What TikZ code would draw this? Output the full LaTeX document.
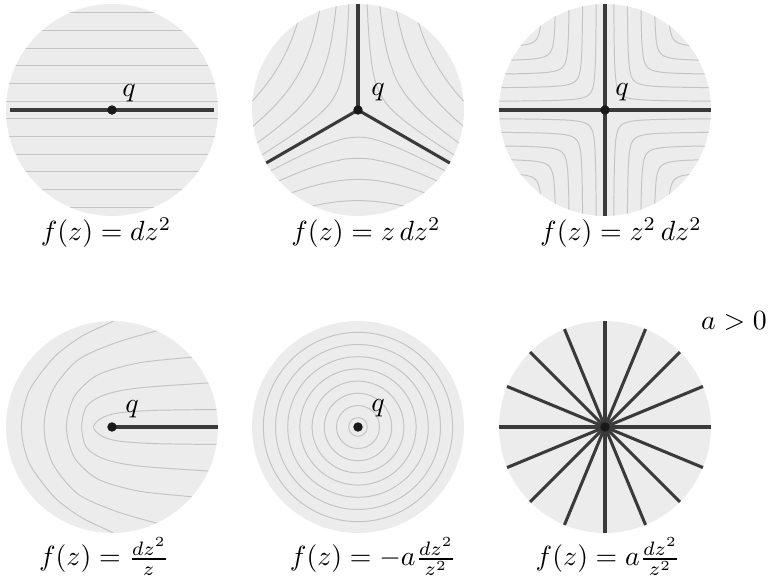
\documentclass[tikz,border=0pt]{standalone}
\usepackage{amsmath}
\usetikzlibrary{positioning}
\definecolor{diskgray}{RGB}{236,236,236}
\definecolor{trajgray}{RGB}{196,196,196}
\definecolor{critgray}{RGB}{58,58,58}

\begin{document}
\begin{tikzpicture}[
    x=0.36pt, y=-0.36pt,
    disk/.style={circle, fill=diskgray, minimum size=76.3pt, inner sep=0pt},
    diskframe/.style={shift={(#1.center)}, xscale=106, yscale=-106},
    traj/.style={draw=trajgray, line width=0.35pt},
    crit/.style={draw=critgray, line width=1.1pt},
    zero/.style={circle, fill=black!90, inner sep=0pt, minimum size=3.4pt},
    qlab/.style={inner sep=0pt},
    formula/.style={anchor=base, inner sep=0pt}
]
\useasboundingbox (0,0) rectangle (773,584);

% Disks
\node[disk] (D1) at (112,110) {};
\node[disk] (D2) at (358,110) {};
\node[disk] (D3) at (605,110) {};
\node[disk] (D4) at (112,427) {};
\node[disk] (D5) at (358,427) {};
\node[disk] (D6) at (605,427) {};

% dz^2
\begin{scope}[diskframe=D1]
  \begin{scope}
    \clip (0,0) circle (1);
    \foreach \k in {0,...,5}
      \draw[traj] (-1,{(\k+0.5)*0.167}) -- (1,{(\k+0.5)*0.167})
                  (-1,{-(\k+0.5)*0.167}) -- (1,{-(\k+0.5)*0.167});
  \end{scope}
  \draw[crit] (-0.96,0) -- (0.96,0);
  \node[zero] (z1) at (0,0) {};
  \node[qlab] (q1) at (0.16,0.16) {$q$};
\end{scope}

% z dz^2
\begin{scope}[diskframe=D2]
  \begin{scope}
    \clip (0,0) circle (1);
    \foreach \base in {90,210,330}
      \foreach \c in {0.1288,0.307,0.530,0.7906}
        \draw[traj] plot[domain=-1.15:1.15, samples=61, smooth]
          ({\base+(2/3)*atan2(\c,\x)}:{(\x*\x+\c*\c)^(1/3)});
  \end{scope}
  \foreach \a in {90,210,330}
    \draw[crit] (0,0) -- (\a:1);
  \node[zero] (z2) at (0,0) {};
  \node[qlab] (q2) at (0.19,0.17) {$q$};
\end{scope}

% z^2 dz^2
\begin{scope}[diskframe=D3]
  \begin{scope}
    \clip (0,0) circle (1);
    \foreach \d in {0.078,0.205,0.332,0.459,0.586}
      \foreach \sx/\sy in {1/1,-1/1,1/-1,-1/-1}
        \draw[traj, xscale=\sx, yscale=\sy] plot[domain=-3.2:3.2, samples=60, smooth]
          ({\d+0.07*exp(\x)}, {\d+0.07*exp(-\x)});
  \end{scope}
  \draw[crit] (-1,0) -- (1,0);
  \draw[crit] (0,-1) -- (0,1);
  \node[zero] (z3) at (0,0) {};
  \node[qlab] (q3) at (0.16,0.17) {$q$};
\end{scope}

% dz^2 / z
\begin{scope}[diskframe=D4]
  \begin{scope}
    \clip (0,0) circle (1);
    \draw[traj] plot[smooth] coordinates {(1.1,0.166) (0.405,0.157) (0.06,0.132) (-0.097,0.085) (-0.176,0)
      (-0.097,-0.085) (0.06,-0.132) (0.405,-0.157) (1.1,-0.166)};
    \draw[traj] plot[smooth] coordinates {(1.1,0.425) (0.9,0.415) (0.248,0.368) (-0.066,0.305) (-0.239,0.195) (-0.286,0)
      (-0.239,-0.195) (-0.066,-0.305) (0.248,-0.368) (0.9,-0.415) (1.1,-0.425)};
    \draw[traj] plot[smooth] coordinates {(0.95,0.68) (0.736,0.657) (0.248,0.604) (-0.129,0.494) (-0.333,0.32) (-0.405,0.16) (-0.43,0)
      (-0.405,-0.16) (-0.333,-0.32) (-0.129,-0.494) (0.248,-0.604) (0.736,-0.657) (0.95,-0.68)};
    \draw[traj] plot[smooth] coordinates {(0.6,0.95) (0.406,0.903) (0.028,0.792) (-0.318,0.635) (-0.538,0.384) (-0.62,0.17) (-0.64,0)
      (-0.62,-0.17) (-0.538,-0.384) (-0.318,-0.635) (0.028,-0.792) (0.406,-0.903) (0.6,-0.95)};
    \draw[traj] plot[smooth] coordinates {(0.1,1.05) (-0.01,0.988) (-0.286,0.855) (-0.538,0.667) (-0.758,0.384) (-0.83,0.19) (-0.855,0)
      (-0.83,-0.19) (-0.758,-0.384) (-0.538,-0.667) (-0.286,-0.855) (-0.01,-0.988) (0.1,-1.05)};
  \end{scope}
  \draw[crit] (0,0) -- (1,0);
  \node[zero] (z4) at (0,0) {};
  \node[qlab] (q4) at (0.19,0.17) {$q$};
\end{scope}

% -a dz^2 / z^2
\begin{scope}[diskframe=D5]
  \foreach \k in {0,...,7}
    \draw[traj] (0,0) circle ({0.088+0.115*\k});
  \node[zero] (z5) at (0,0) {};
  \node[qlab] (q5) at (0.19,0.18) {$q$};
\end{scope}

% a dz^2 / z^2
\begin{scope}[diskframe=D6]
  \foreach \a in {0,22.5,...,337.5}
    \draw[crit] (0,0) -- (\a:1);
  \node[zero] (z6) at (0,0) {};
\end{scope}

% Labels
\node[formula] (f1) at (106,241) {$f(z) = dz^2$};
\node[formula] (f2) at (366,241) {$f(z) = z\,dz^2$};
\node[formula] (f3) at (621,241) {$f(z) = z^2\,dz^2$};
\node[formula] (f4) at (104,566) {$f(z) = \frac{dz^2}{z}$};
\node[formula] (f5) at (373,566) {$f(z) = -a\frac{dz^2}{z^2}$};
\node[formula] (f6) at (608,566) {$f(z) = a\frac{dz^2}{z^2}$};
\node[formula] (apos) at (734,330) {$a > 0$};
\end{tikzpicture}
\end{document}
